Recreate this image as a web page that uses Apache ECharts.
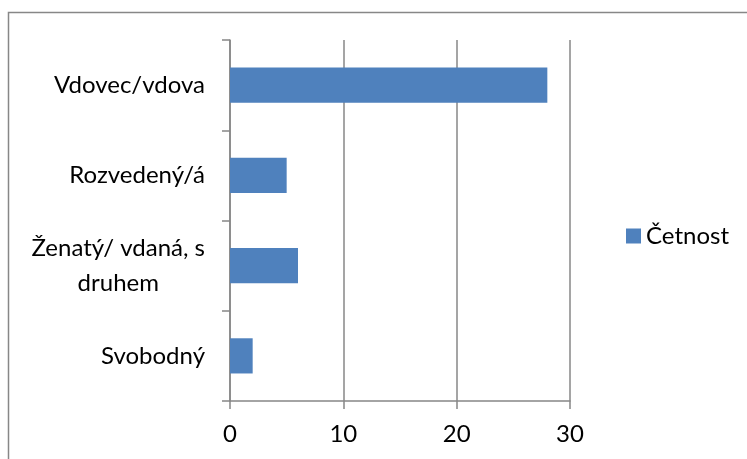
<!DOCTYPE html>
<html>
<head>
<meta charset="utf-8">
<script src="https://cdn.jsdelivr.net/npm/echarts@6/dist/echarts.min.js"></script>
<style>
  html, body { margin: 0; padding: 0; background: #fff; }
  #chart { width: 747px; height: 459px; }
</style>
</head>
<body>
<div id="chart"></div>
<script>
// Marital status categories (bottom to top on the category axis)
const categories = ['Svobodný', 'Ženatý/ vdaná, s\ndruhem', 'Rozvedený/á', 'Vdovec/vdova'];
// Frequency per category
const cetnost = [2, 6, 5, 28];
const seriesName = 'Četnost';
const valueTicks = [0, 10, 20, 30];

const FONT = 'Lato, "Open Sans", sans-serif';
const FS = 24;
const chart = echarts.init(document.getElementById('chart'), null, { renderer: 'canvas' });

chart.setOption({
  animation: false,
  backgroundColor: '#fff',
  textStyle: { fontFamily: FONT },
  graphic: [{
    type: 'rect',
    left: 6, top: 10,
    shape: { width: 800, height: 500 },
    style: { fill: 'none', stroke: '#878787', lineWidth: 1.5 },
    silent: true
  }],
  grid: { left: 230, right: 177, top: 40, bottom: 58 },
  legend: {
    data: [seriesName],
    orient: 'vertical',
    left: 626, top: 224,
    padding: 0,
    itemWidth: 15, itemHeight: 15, itemGap: 6,
    icon: 'rect',
    textStyle: { fontSize: FS, color: '#000', fontFamily: FONT }
  },
  xAxis: {
    type: 'value',
    min: valueTicks[0], max: valueTicks[valueTicks.length - 1], interval: 10,
    axisLine: { show: true, lineStyle: { color: '#878787', width: 1.5 } },
    axisTick: { show: true, length: 8, lineStyle: { color: '#878787', width: 1.5 } },
    splitLine: { show: true, lineStyle: { color: '#878787', width: 1.5 } },
    axisLabel: { fontSize: FS, color: '#000', margin: 21, fontFamily: FONT }
  },
  yAxis: {
    type: 'category',
    data: categories,
    axisLine: { show: true, lineStyle: { color: '#878787', width: 1.5 } },
    axisTick: { show: true, length: 8, lineStyle: { color: '#878787', width: 1.5 } },
    axisLabel: {
      fontSize: FS, color: '#000', margin: 25, fontFamily: FONT, lineHeight: 35,
      formatter: function (v) {
        return v.split('\n').map(function (s) { return '{c|' + s + '}'; }).join('\n');
      },
      rich: { c: { align: 'center', fontSize: FS, color: '#000', fontFamily: FONT, lineHeight: 35 } }
    }
  },
  series: [{
    name: seriesName,
    type: 'bar',
    data: cetnost,
    barCategoryGap: '61%',
    itemStyle: { color: '#4F81BD' }
  }]
});
</script>
</body>
</html>
